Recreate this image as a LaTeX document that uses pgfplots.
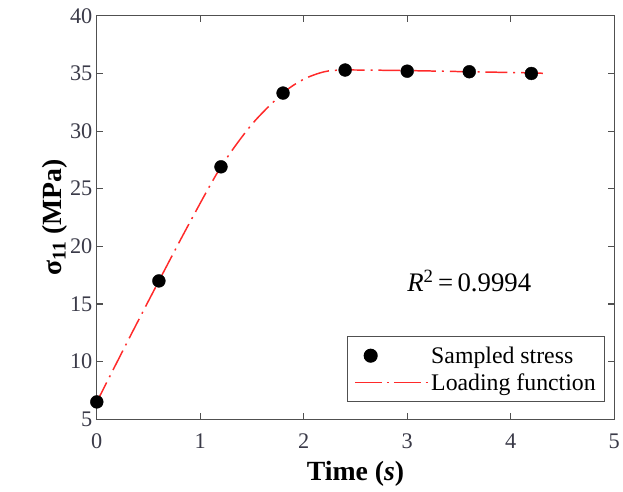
\documentclass[border=0pt]{standalone}
\usepackage{fontspec}
\setmainfont{Liberation Serif}
\usepackage{pgfplots}
\pgfplotsset{compat=1.18}
\definecolor{axgray}{HTML}{505050}
\definecolor{tickcol}{HTML}{3A3A48}
\definecolor{lred}{HTML}{FF2A2A}
\begin{document}
\begin{tikzpicture}
\begin{axis}[
  name=ax, at={(0,0)}, anchor=south west,
  width=522pt, height=407pt, scale only axis,
  xmin=0, xmax=5, ymin=5, ymax=40,
  xtick={0,1,2,3,4,5}, ytick={5,10,...,40},
  tick align=inside, major tick length=6pt,
  axis line style={axgray, line width=1.2pt},
  tick style={axgray, line width=1.2pt},
  /pgf/number format/assume math mode=true,
  ticklabel style={font=\fontsize{22.5}{26}\selectfont, text=tickcol},
  xticklabel style={yshift=-11pt},
  yticklabel style={xshift=-1pt},
  xlabel={\textbf{Time (\textit{s})}},
  ylabel={\textbf{σ\textsubscript{11} (MPa)}},
  label style={font=\fontsize{28}{32}\selectfont},
  xlabel style={yshift=-6pt},
  ylabel style={yshift=-4pt},
  legend style={at={(1,0)}, anchor=south east, xshift=-9pt, yshift=17pt,
    font=\fontsize{24}{28}\selectfont, draw=axgray, line width=1.2pt,
    inner xsep=7pt, inner ysep=8pt, row sep=5pt},
  legend cell align=left,
]
\addplot[only marks, mark=*, mark size=6.5pt, black] coordinates {
  (0,6.5) (0.6,17.0) (1.2,26.9) (1.8,33.3) (2.4,35.3) (3.0,35.2) (3.6,35.15) (4.2,35.0)
};
\addlegendentry{Sampled stress}
\addplot[lred, line width=1.5pt, smooth, tension=0.5,
  dash pattern=on 22pt off 6pt on 2pt off 6pt,
  legend image code/.code={\draw[lred, line width=1.5pt, dash pattern=on 27pt off 5pt on 2pt off 5pt] (-0.25cm,0cm) -- (2.35cm,0cm);}]
  coordinates {
  (0,6.5) (0.3,11.8) (0.6,17.0) (0.9,22.1) (1.2,26.9) (1.5,30.6) (1.8,33.3)
  (2.0,34.5) (2.2,35.15) (2.4,35.3) (3.0,35.25) (3.6,35.15) (4.2,35.05) (4.33,35.0)
};
\addlegendentry{Loading function}
\node[font=\fontsize{27}{31}\selectfont] at (axis cs:3.60,17.0) {\textit{R}\textsuperscript{2}\,=\,0.9994};
\end{axis}
\path[use as bounding box] ([shift={(-97.7pt,-73pt)}]ax.south west) rectangle ([shift={(2.7pt,16pt)}]ax.north east);
\end{tikzpicture}
\end{document}
